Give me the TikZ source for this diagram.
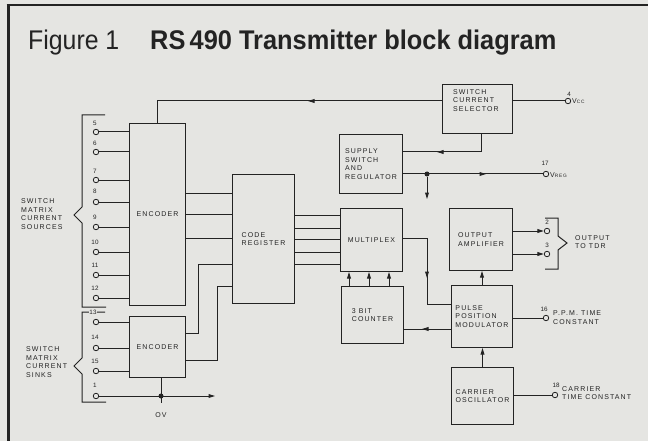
\documentclass[tikz,border=0pt]{standalone}
\usepackage{graphicx}
\usepackage{fontspec}
\setmainfont{Liberation Sans}
\newfontfamily\lblfont[LetterSpace=16]{Liberation Sans}
\usetikzlibrary{arrows.meta,decorations.markings}
\definecolor{paper}{RGB}{229,229,226}
\definecolor{ink}{RGB}{35,35,35}
\tikzset{
  wire/.style={draw=ink,line width=1pt},
  box/.style={draw=ink,line width=1pt,anchor=north west,inner sep=0pt,font=\lblfont\fontsize{7}{8.8}\selectfont,align=left,text=ink},
  txt/.style={font=\lblfont\fontsize{7}{8.8}\selectfont,align=left,text=ink,inner sep=0pt},
  num/.style={font=\fontsize{6.3}{7}\selectfont,text=ink,inner sep=0.5pt},
  pin/.style={circle,draw=ink,fill=paper,line width=0.8pt,inner sep=0pt,minimum size=5.5pt},
  tip/.style={-{Triangle[length=6.5pt,width=3.8pt]}},
  marrow/.style={postaction={decorate},decoration={markings,mark=at position #1 with {\arrow{Triangle[length=6.5pt,width=3.8pt]}}}},
  jdot/.style={circle,fill=ink,inner sep=0pt,minimum size=5pt},
}
\begin{document}
\begin{tikzpicture}[x=1pt,y=-1pt]
\useasboundingbox[fill=paper] (0,0) rectangle (648,441);
% frame
\draw[ink,line width=3pt] (8,5) -- (8,441);
\draw[ink,line width=1.5pt] (6.5,5) -- (648,5);
% title
\node[anchor=base west,inner sep=0pt,text=ink,font=\fontsize{27}{30}\selectfont] (fig) at (28,50) {\scalebox{0.92}[1]{Figure 1}};
\node[anchor=base west,inner sep=0pt,text=ink,font=\bfseries\fontsize{27}{30}\selectfont] (ttl) at (150,50) {\scalebox{0.94}[1]{RS\,490 Transmitter block diagram}};
% boxes
\node[box,minimum width=56pt,minimum height=182pt] (enc1) at (129,123) {ENCODER};
\node[box,minimum width=56pt,minimum height=61pt] (enc2) at (129,316) {ENCODER};
\node[box,minimum width=62pt,minimum height=129pt] (creg) at (232,174) {CODE\\REGISTER};
\node[box,minimum width=70pt,minimum height=49pt] (scs) at (442,84) {};
\node[txt,anchor=north west] (scst) at (453,89) {SWITCH\\CURRENT\\SELECTOR};
\node[box,minimum width=63pt,minimum height=59pt] (supply) at (339,134) {SUPPLY\\SWITCH\\AND\\REGULATOR};
\node[box,minimum width=62pt,minimum height=63pt] (mux) at (340,208) {MULTIPLEX};
\node[box,minimum width=62pt,minimum height=57pt] (counter) at (341,286) {3 BIT\\COUNTER};
\node[box,minimum width=63pt,minimum height=62pt] (oa) at (449,208) {OUTPUT\\AMPLIFIER};
\node[box,minimum width=61pt,minimum height=62pt] (ppm) at (451,285) {PULSE\\POSITION\\MODULATOR};
\node[box,minimum width=62pt,minimum height=57pt] (co) at (451,367) {CARRIER\\OSCILLATOR};
% source pins
\foreach \n/\y/\ly in {5/132/123,6/152/143,7/180/171,8/202/191,9/227/217,10/252/242,11/275/265,12/298/288} {
  \node[pin] (p\n) at (96,\y) {};
  \node[num] (l\n) at (95,\ly) {\n};
  \draw[wire] (p\n) -- (p\n -| enc1.west);
}
% sink pins
\foreach \n/\y/\ly in {14/348/337,15/371/361} {
  \node[pin] (p\n) at (96,\y) {};
  \node[num] (l\n) at (95,\ly) {\n};
  \draw[wire] (p\n) -- (p\n -| enc2.west);
}
\node[pin] (p13) at (96,322) {};
\draw[wire] (p13) -- (p13 -| enc2.west);
\node[pin] (p1) at (96,396) {};
\node[num] (l1) at (95,385) {1};
% brackets
\draw[wire] (105,115) -- (82,115) -- (82,207) -- (74,215) -- (82,223) -- (82,307) -- (106,307);
\draw[wire] (105,312) -- (82,312) -- (82,358) -- (74,366) -- (82,374) -- (82,402) -- (106,402);
\node[num,fill=paper] (l13) at (93,312) {13};
\node[txt,anchor=west] (srcl) at (21,214) {SWITCH\\MATRIX\\CURRENT\\SOURCES};
\node[txt,anchor=west] (snkl) at (26,362) {SWITCH\\MATRIX\\CURRENT\\SINKS};
% encoder outputs
\foreach \y in {193,214,238} \draw[wire] (enc1.east |- 0,\y) -- (creg.west |- 0,\y);
\draw[wire] (enc2.east |- 0,333) -- (198,333) -- (198,264) -- (creg.west |- 0,264);
\draw[wire] (enc2.east |- 0,360) -- (217,360) -- (217,286) -- (creg.west |- 0,286);
% code register to multiplex
\foreach \y in {215,228,239,252,264} \draw[wire] (creg.east |- 0,\y) -- (mux.west |- 0,\y);
% counter to multiplex
\foreach \x in {349,369,389} \draw[wire,tip] (counter.north -| \x,0) -- (mux.south -| \x,0);
% OV
\node[jdot] (ovdot) at (161,396) {};
\coordinate (ovend) at (215,396);
\coordinate (ovbot) at (161,403);
\node[txt] (ovl) at (161,415) {OV};
\draw[wire,tip] (p1) -- (ovend);
\draw[wire] (enc2.south -| ovdot) -- (ovbot);
% switch current selector
\node[pin] (vcc) at (568,101) {};
\node[num] (l4) at (569,94) {4};
\node[txt,anchor=west] (vccl) at (572,101.5) {V{\fontsize{4.8}{5}\selectfont CC}};
\draw[wire] (scs.east |- vcc) -- (vcc);
\draw[wire,marrow=134pt] (scs.west |- 0,101) -- (enc1.north |- 0,101) -- (enc1.north);
\draw[wire,marrow=62pt] (scs.south -| 481,0) -- (481,152) -- (supply.east |- 0,152);
% supply
\node[pin] (vreg) at (546,174) {};
\node[num] (l17) at (545,163) {17};
\node[txt,anchor=west] (vregl) at (550,175) {V{\fontsize{4.8}{5}\selectfont REG}};
\node[jdot] (rdot) at (427,174) {};
\coordinate (regdn) at (427,199);
\draw[wire,marrow=83pt] (supply.east |- vreg) -- (vreg);
\draw[wire,tip] (rdot) -- (regdn);
% multiplex / ppm / counter
\draw[wire,marrow=64pt] (mux.east |- 0,238) -- (427,238) -- (427,304) -- (ppm.west |- 0,304);
\draw[wire,marrow=29pt] (ppm.west |- 0,329) -- (counter.east |- 0,329);
% output amplifier
\node[pin] (o2) at (547,231) {};
\node[num] (l2) at (547,222) {2};
\node[pin] (o3) at (547,254) {};
\node[num] (l3) at (547,245) {3};
\draw[wire,tip] (oa.east |- o2) -- (o2);
\draw[wire,tip] (oa.east |- o3) -- (o3);
\draw[wire] (545,218) -- (558,218) -- (558,236) -- (567,243) -- (558,250) -- (558,269) -- (545,269);
\node[txt,anchor=west] (outl) at (575,242) {OUTPUT\\TO TDR};
\draw[wire,tip] (ppm.north) -- (ppm.north |- oa.south);
\draw[wire,tip] (co.north) -- (co.north |- ppm.south);
% ppm time constant
\node[pin] (p16) at (546,318) {};
\node[num] (l16) at (544,309) {16};
\node[txt,anchor=west] (ppml) at (553,318) {P.P.M. TIME\\CONSTANT};
\draw[wire] (ppm.east |- p16) -- (p16);
% carrier time constant
\node[pin] (p18) at (555,395) {};
\node[num] (l18) at (556,385) {18};
\node[txt,anchor=west] (col) at (562,393) {CARRIER\\TIME CONSTANT};
\draw[wire] (co.east |- p18) -- (p18);
\end{tikzpicture}
\end{document}
